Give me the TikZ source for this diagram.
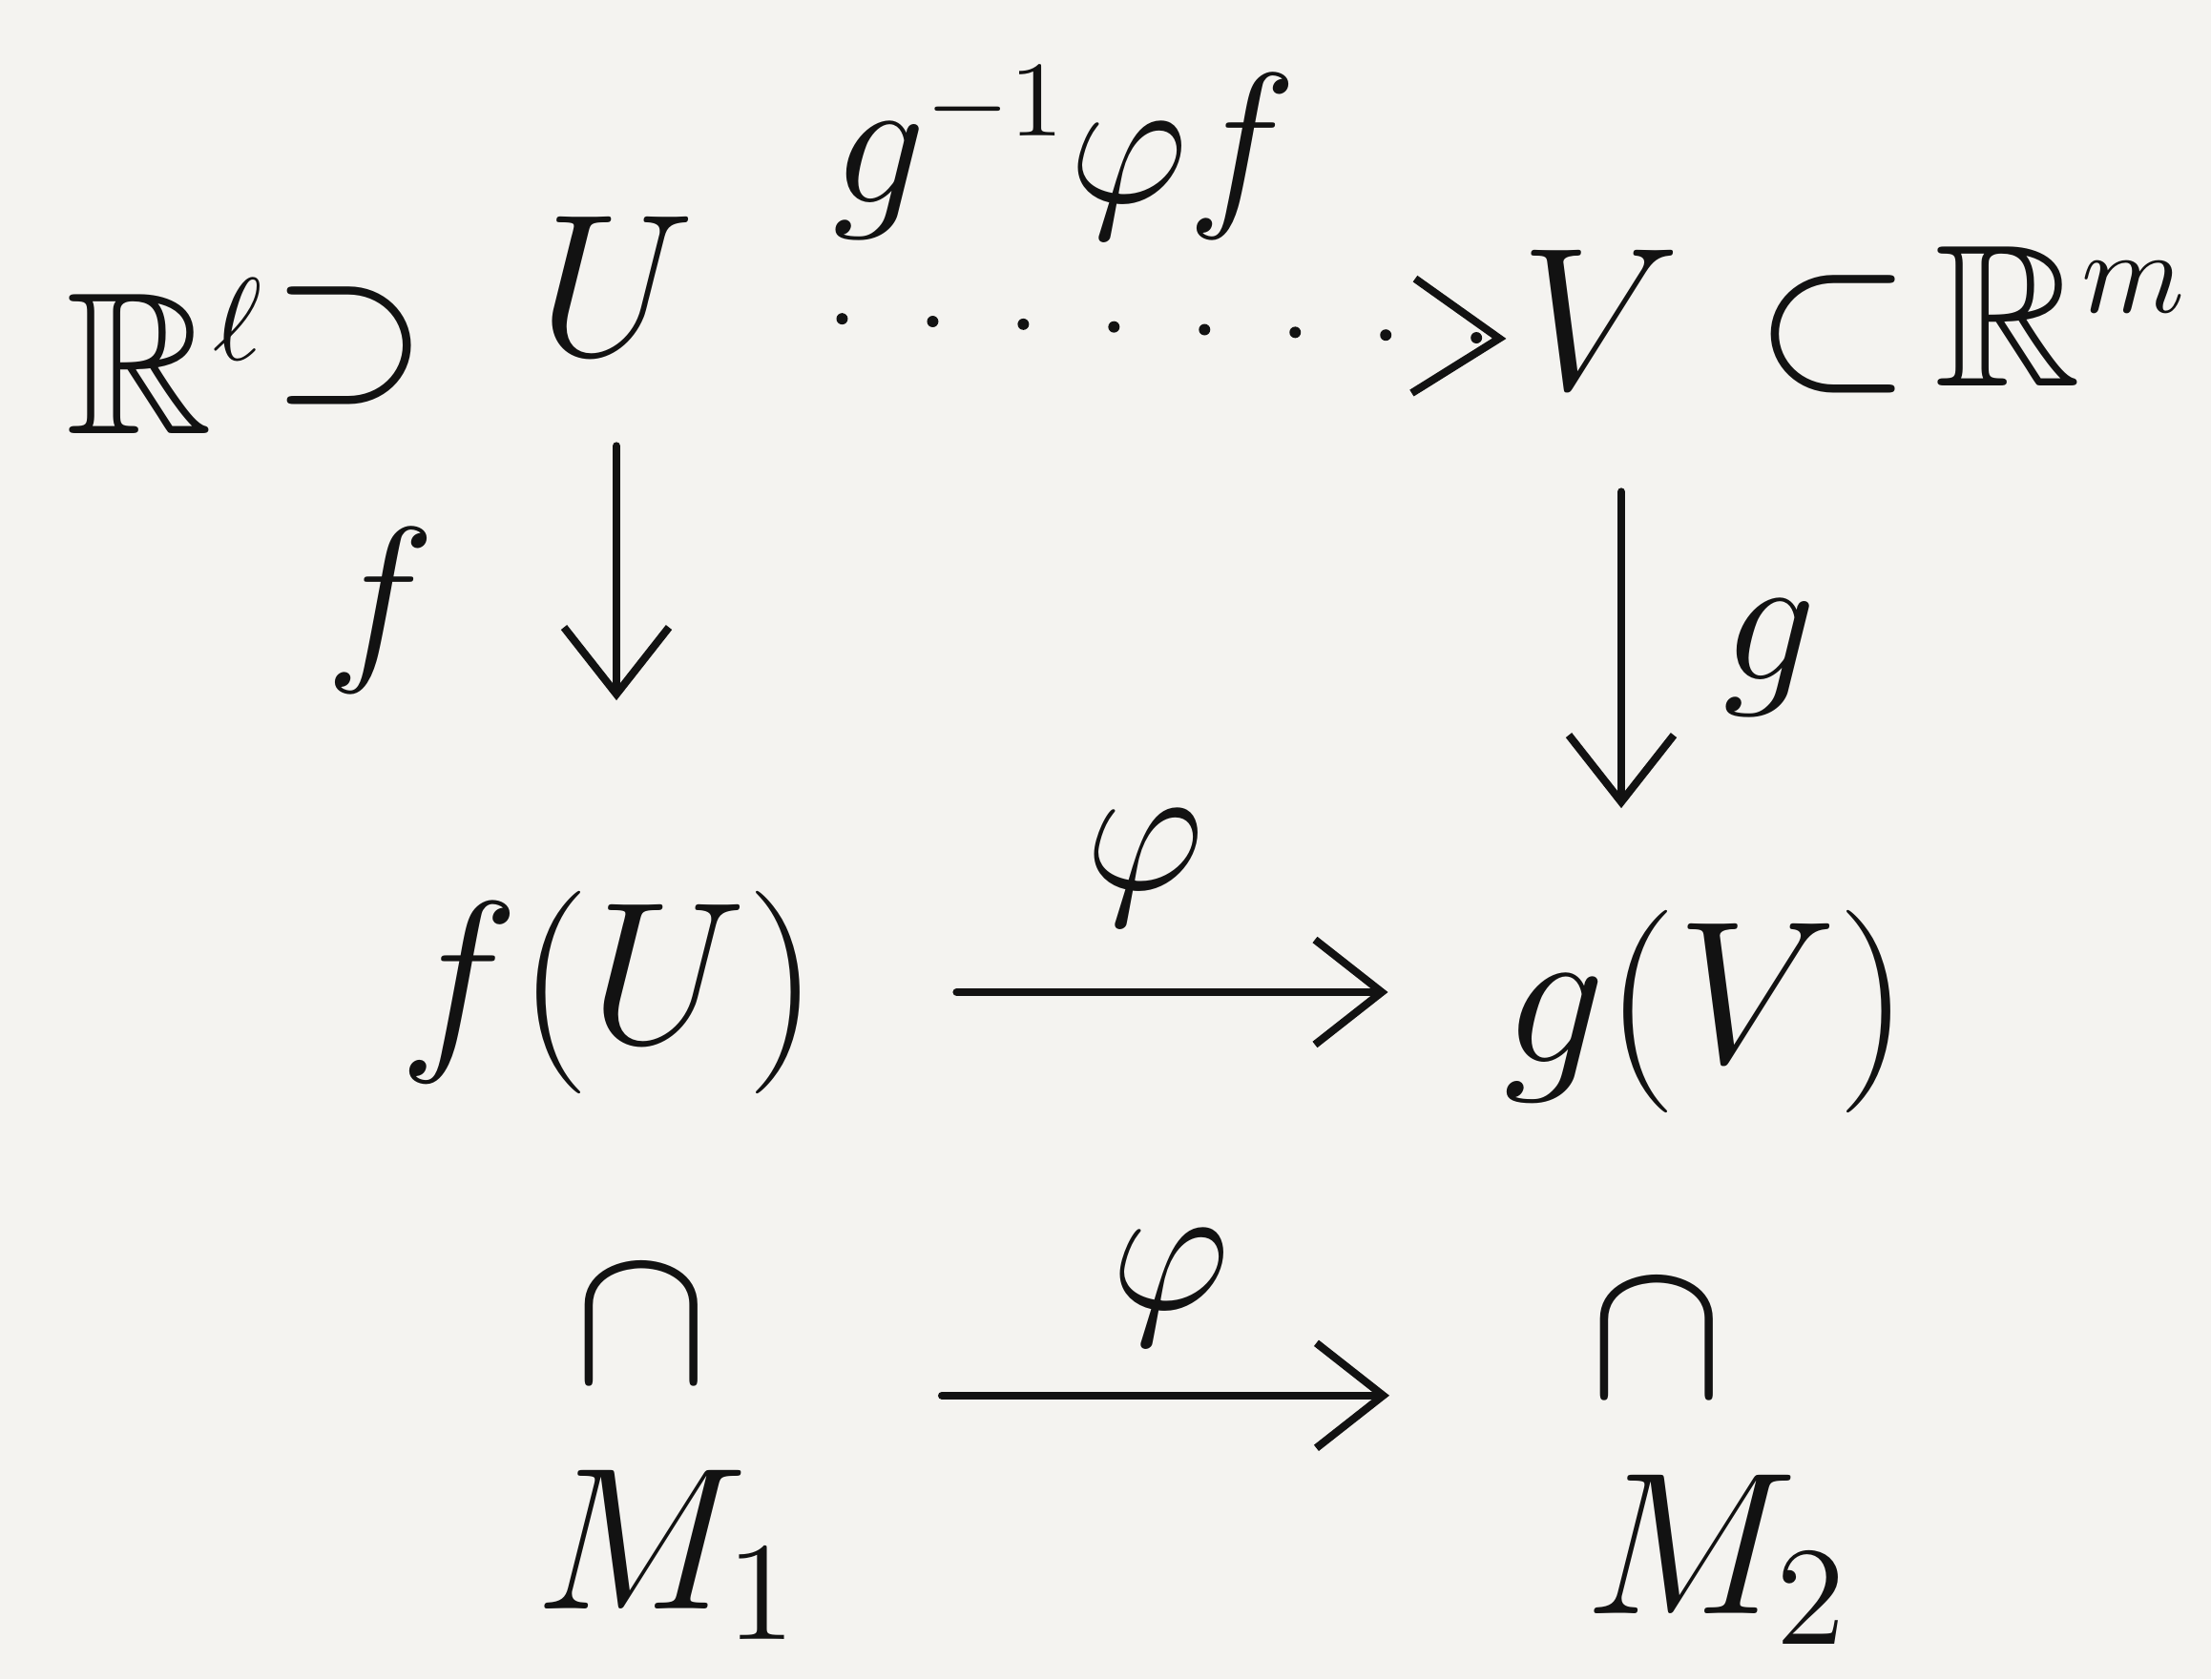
\documentclass[tikz,border=0pt]{standalone}
\usepackage{amsmath}
\usepackage{amsfonts}
\usepackage{tikz}
\usetikzlibrary{arrows.meta}

\definecolor{paper}{RGB}{244,243,240}
\definecolor{ink}{RGB}{18,18,18}

\begin{document}
\begin{tikzpicture}[
    big/.style={text=ink, font=\LARGE, scale=3.5, inner sep=1pt},
    lbl/.style={text=ink, font=\LARGE, scale=3.2, inner sep=1pt},
    map/.style={draw=ink, line width=2.3pt, line cap=round,
      -{Straight Barb[length=0.7cm,width=1.1cm,line width=2.3pt]}},
    dotmap/.style={map, line width=3.4pt, dash pattern=on 0pt off 0.95cm,
      -{Straight Barb[length=0.9cm,width=1.2cm,line width=2.3pt]}}
  ]
  % Paper
  \fill[paper] (0,0) rectangle (23.17,17.60);
  \useasboundingbox (0,0) rectangle (23.17,17.60);

  % Top row
  \node[big, anchor=base west] (Rl) at (0.55,13.05) {$\mathbb{R}^{\scriptscriptstyle \ell}$};
  \node[big] (sup) at (3.66,13.98) {$\supset$};
  \node[big] (U) at (6.46,14.6) {$U$};
  \node[big] (V) at (16.77,14.25) {$V$};
  \node[big] (sub) at (19.21,14.1) {$\subset$};
  \node[big, anchor=base east] (Rm) at (23.1,13.55) {$\mathbb{R}^{\scriptscriptstyle m}$};
  \node[lbl] (gpf) at (11.16,16.0) {$g^{\scriptscriptstyle -1}\varphi f$};

  % Middle row
  \node[big] (fU) at (6.38,7.2) {$f(U)$};
  \node[big] (gV) at (17.88,7.0) {$g(V)$};
  \node[lbl] (f) at (3.99,11.2) {$f$};
  \node[lbl] (g) at (18.55,10.7) {$g$};
  \node[lbl] (phi1) at (12.0,8.5) {$\varphi$};

  % Bottom rows
  \node[big] (capL) at (6.72,3.71) {$\cap$};
  \node[big] (capR) at (17.36,3.56) {$\cap$};
  \node[lbl] (phi2) at (12.27,4.1) {$\varphi$};
  \node[big] (M1) at (7.0,1.3) {$M_1$};
  \node[big] (M2) at (18.0,1.25) {$M_2$};

  % Maps
  \draw[dotmap, shorten <=1.4cm] ([yshift=-0.3cm]U.east) -- ([yshift=-0.2cm]V.west);
  \draw[map, shorten <=0.8cm, shorten >=1.85cm] (U.south) -- (U.south |- fU.north);
  \draw[map, shorten <=0.93cm, shorten >=0.92cm] ([xshift=0.22cm]V.south) -- ([xshift=0.22cm]V.south |- gV.north);
  \draw[map, shorten <=1.3cm, shorten >=1.06cm] (fU.east) -- (fU.east -| gV.west);
  \draw[map, shorten <=3.15cm, shorten >=2.8cm] (capL.south) -- (capL.south -| capR.south);
\end{tikzpicture}
\end{document}
